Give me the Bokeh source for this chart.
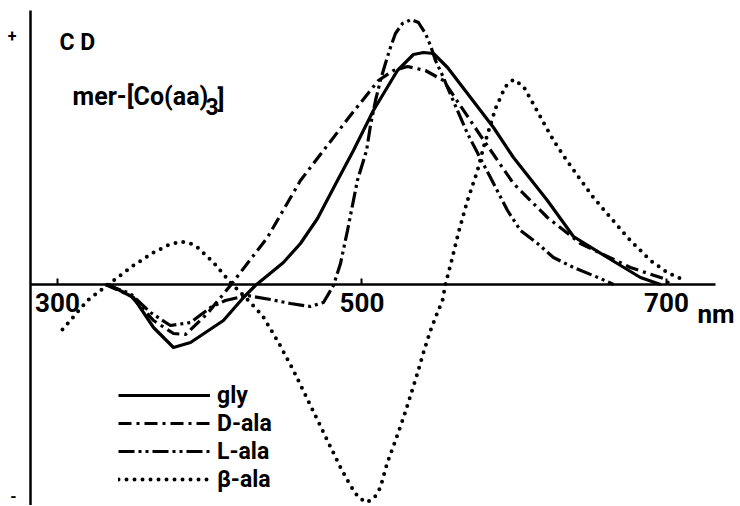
from bokeh.plotting import figure
from bokeh.models import Range1d, FixedTicker, Legend, LegendItem, Label, CustomJSTickFormatter
from bokeh.embed import file_html
from bokeh.resources import INLINE

# ---- data (wavelength in nm, CD in arbitrary units) ----
gly_nm = [333.5, 349.9, 363.1, 376.2, 387.4, 409.0, 422.2, 430.0, 448.4, 459.6, 470.8, 483.9,
          494.4, 507.5, 523.3, 533.8, 540.4, 547.0, 556.2, 571.3, 586.4, 599.5, 621.8, 638.9,
          661.2, 682.9, 696.1]
gly_cd = [0.00, -0.13, -0.43, -0.63, -0.58, -0.36, -0.13, -0.01, 0.22, 0.41, 0.66, 1.04,
          1.34, 1.74, 2.14, 2.30, 2.32, 2.31, 2.17, 1.87, 1.57, 1.27, 0.84, 0.48,
          0.27, 0.07, 0.00]

dala_nm = [331.5, 347.9, 363.1, 376.2, 384.1, 398.5, 413.6, 437.9, 459.6, 474.7, 492.4, 510.8,
           520.7, 529.9, 541.7, 553.5, 577.8, 599.5, 621.8, 643.5, 676.3, 698.0, 702.6]
dala_cd = [0.00, -0.11, -0.36, -0.49, -0.50, -0.29, -0.01, 0.47, 1.04, 1.34, 1.69, 2.04,
           2.14, 2.18, 2.14, 2.04, 1.49, 1.01, 0.67, 0.41, 0.17, 0.06, 0.00]

lala_nm = [331.5, 347.9, 361.1, 374.2, 387.4, 400.5, 410.3, 424.8, 439.9, 453.0, 466.2, 474.7,
           481.3, 485.9, 490.5, 497.0, 503.0, 505.6, 508.9, 512.1, 515.4, 518.7, 522.0, 526.6,
           532.5, 537.1, 541.7, 545.0, 548.3, 552.9, 556.2, 562.7, 569.3, 577.8, 584.4, 595.6,
           604.1, 615.3, 625.8, 638.9, 656.6, 665.2]
lala_cd = [0.00, -0.09, -0.28, -0.41, -0.38, -0.23, -0.16, -0.11, -0.15, -0.19, -0.22, -0.18,
           -0.01, 0.21, 0.54, 1.04, 1.34, 1.59, 1.84, 2.04, 2.21, 2.37, 2.51, 2.61,
           2.65, 2.62, 2.51, 2.39, 2.24, 2.09, 1.97, 1.74, 1.51, 1.26, 1.07, 0.74,
           0.54, 0.41, 0.27, 0.17, 0.06, 0.00]

bala_nm = [303.3, 311.8, 319.7, 328.2, 336.8, 349.9, 363.1, 372.2, 380.8, 387.4, 392.0, 402.5,
           410.3, 414.9, 423.5, 434.6, 445.2, 455.0, 466.2, 477.3, 485.9, 492.4, 497.7, 503.0,
           508.2, 512.1, 516.7, 522.0, 527.3, 531.9, 536.4, 540.4, 545.0, 549.6, 552.9, 554.8,
           559.4, 563.4, 569.3, 575.9, 579.8, 587.7, 594.2, 599.5, 606.1, 612.0, 619.2, 625.8,
           632.3, 641.5, 652.0, 663.2, 676.3, 689.5, 700.6, 709.2]
bala_cd = [-0.45, -0.30, -0.16, -0.06, 0.04, 0.19, 0.32, 0.39, 0.43, 0.41, 0.37, 0.22,
           0.08, 0.00, -0.13, -0.31, -0.58, -0.86, -1.21, -1.56, -1.83, -2.01, -2.13, -2.18,
           -2.13, -2.03, -1.78, -1.56, -1.33, -1.11, -0.89, -0.68, -0.46, -0.28, -0.16, 0.00,
           0.27, 0.52, 0.84, 1.14, 1.37, 1.76, 1.98, 2.05, 1.98, 1.82, 1.62, 1.44,
           1.29, 1.09, 0.87, 0.67, 0.44, 0.24, 0.12, 0.06]

x_ticks = [300, 500, 700]
y_marks = [2.49, -2.11]
series_names = ["gly", "D-ala", "L-ala", "β-ala"]

FONT = "Roboto"

p = figure(width=738, height=505, output_backend="svg", toolbar_location=None,
           x_range=Range1d(282.3, 747.3), y_range=Range1d(-2.21, 2.74),
           min_border_left=30, min_border_right=0, min_border_top=10, min_border_bottom=0)
p.outline_line_color = None
p.xgrid.visible = False
p.ygrid.visible = False
p.background_fill_color = "white"
p.border_fill_color = "white"

# x axis drawn at CD = 0
xa = p.xaxis[0]
xa.fixed_location = 0
xa.bounds = (282.3, 732.2)
xa.ticker = FixedTicker(ticks=x_ticks)
xa.axis_line_width = 2.5
xa.axis_line_color = "black"
xa.major_tick_in = 6
xa.major_tick_out = 0
xa.major_tick_line_width = 2
xa.minor_tick_line_color = None
xa.major_label_standoff = 8
xa.major_label_text_font = FONT
xa.major_label_text_font_style = "bold"
xa.major_label_text_font_size = "26px"
xa.major_label_text_color = "black"

ya = p.yaxis[0]
ya.ticker = FixedTicker(ticks=y_marks)
ya.formatter = CustomJSTickFormatter(code="return tick > 0 ? '+' : '-';")
ya.axis_line_width = 2.5
ya.axis_line_color = "black"
ya.major_tick_in = 0
ya.major_tick_out = 0
ya.minor_tick_line_color = None
ya.major_label_standoff = 14
ya.major_label_text_font = FONT
ya.major_label_text_font_style = "bold"
ya.major_label_text_font_size = "16px"
ya.major_label_text_color = "black"

r1 = p.line(gly_nm, gly_cd, line_color="black", line_width=3.2, line_join="round")
r2 = p.line(dala_nm, dala_cd, line_color="black", line_width=3.2, line_dash="13 5 3 5")
r3 = p.line(lala_nm, lala_cd, line_color="black", line_width=3.2, line_dash="16 4 3 4 3 4")
r4 = p.line(bala_nm, bala_cd, line_color="black", line_width=4, line_dash="0 8", line_cap="round")

legend = Legend(items=[LegendItem(label=n, renderers=[r]) for n, r in zip(series_names, [r1, r2, r3, r4])],
                location=(88, 12), orientation="vertical")
legend.border_line_color = None
legend.background_fill_alpha = 0
legend.padding = 0
legend.margin = 0
legend.spacing = 0
legend.glyph_width = 92
legend.glyph_height = 28
legend.label_height = 28
legend.label_standoff = 7
legend.label_text_font = FONT
legend.label_text_font_style = "bold"
legend.label_text_font_size = "23px"
legend.label_text_color = "black"
p.add_layout(legend)

def lab(text, x, y, size, **kw):
    p.add_layout(Label(x=x, y=y, x_units="screen", y_units="screen", text=text,
                       text_font=FONT, text_font_style="bold", text_font_size=size,
                       text_color="black", text_baseline="alphabetic", **kw))

lab("C D", 29, 463, "23px")
lab("mer-[Co(aa)", 42, 409, "25px")
lab("3", 175, 399, "23px")
lab("]", 187, 406, "25px")

p.add_layout(Label(x=700, y=0, x_offset=31, y_offset=-29, text="nm", text_font=FONT,
                   text_font_style="bold", text_font_size="26px", text_color="black",
                   text_baseline="alphabetic"))

open("out.html", "w").write(file_html(p, INLINE))
